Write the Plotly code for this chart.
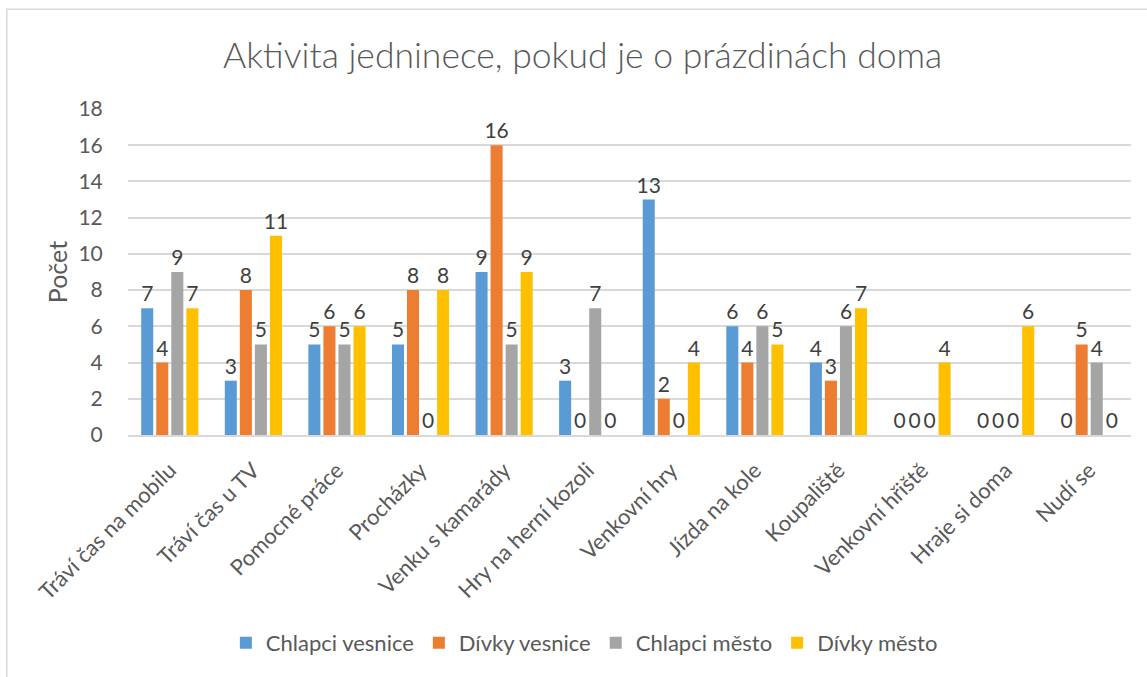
import plotly.graph_objects as go

categories = [
    "Tráví čas na mobilu", "Tráví čas u TV", "Pomocné práce", "Procházky",
    "Venku s kamarády", "Hry na herní kozoli", "Venkovní hry", "Jízda na kole",
    "Koupaliště", "Venkovní hřiště", "Hraje si doma", "Nudí se",
]
chlapci_vesnice = [7, 3, 5, 5, 9, 3, 13, 6, 4, 0, 0, 0]
divky_vesnice = [4, 8, 6, 8, 16, 0, 2, 4, 3, 0, 0, 5]
chlapci_mesto = [9, 5, 5, 0, 5, 7, 0, 6, 6, 0, 0, 4]
divky_mesto = [7, 11, 6, 8, 9, 0, 4, 5, 7, 4, 6, 0]
y_ticks = [0, 2, 4, 6, 8, 10, 12, 14, 16, 18]

series = [
    ("Chlapci vesnice", chlapci_vesnice, "#5B9BD5"),
    ("Dívky vesnice", divky_vesnice, "#ED7D31"),
    ("Chlapci město", chlapci_mesto, "#A5A5A5"),
    ("Dívky město", divky_mesto, "#FFC000"),
]

FONT = "Lato"
TEXT = "#595959"
CLEAR = "rgba(0,0,0,0)"

fig = go.Figure()
for name, vals, color in series:
    fig.add_trace(go.Bar(
        name=name, x=categories, y=vals,
        marker=dict(color=color, line=dict(width=0)),
        text=[str(v) for v in vals], textposition="outside",
        textfont=dict(family=FONT, size=21, color="#404040"),
        constraintext="none", cliponaxis=False,
    ))

fig.update_layout(
    width=1147, height=677,
    paper_bgcolor="white", plot_bgcolor="white",
    margin=dict(l=128, r=16, t=109, b=242),
    barmode="group", bargap=0.28, bargroupgap=0.2,
    title=dict(text="Aktivita jedninece, pokud je o prázdinách doma",
               x=0.508, xanchor="center", y=0.918, yanchor="middle",
               font=dict(family=FONT, size=35.5, color=TEXT, weight=300)),
    font=dict(family=FONT, color=TEXT),
    legend=dict(orientation="h", x=0.455, xanchor="center", y=-0.638, yanchor="middle",
                font=dict(family=FONT, size=22, color=TEXT),
                itemwidth=30, traceorder="normal"),
    shapes=[dict(type="rect", xref="paper", yref="paper",
                 x0=-0.1209, x1=1.2, y0=-0.9, y1=1.306,
                 line=dict(color="#D9D9D9", width=1.5), layer="below")],
)
fig.update_xaxes(
    tickangle=-45, tickfont=dict(family=FONT, size=22, color=TEXT),
    showline=True, linecolor="#D9D9D9", linewidth=1.5,
    ticks="outside", ticklen=12, tickcolor=CLEAR,
    showgrid=False,
)
fig.update_yaxes(
    range=[0, 18], tickvals=y_ticks,
    ticks="outside", ticklen=20, tickcolor=CLEAR,
    tickfont=dict(family=FONT, size=21, color=TEXT),
    showgrid=True, gridcolor="#D9D9D9", gridwidth=1.5,
    zeroline=False, showline=False,
    title=dict(text="Počet", font=dict(family=FONT, size=25, color=TEXT), standoff=3),
)

fig.write_html("out.html")
